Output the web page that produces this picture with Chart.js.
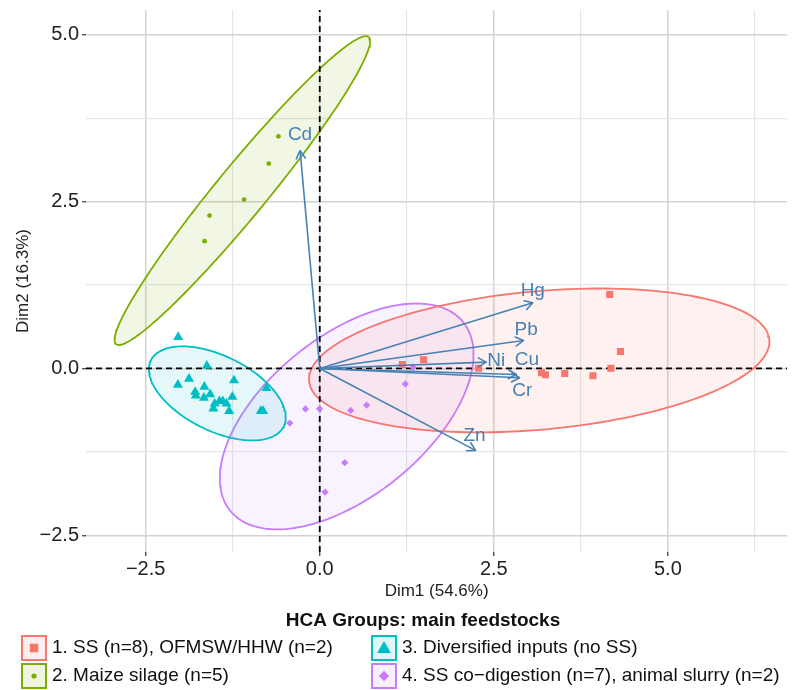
<!DOCTYPE html>
<html><head><meta charset="utf-8">
<script src="https://cdn.jsdelivr.net/npm/chart.js@4/dist/chart.umd.min.js"></script>
<style>html,body{margin:0;padding:0;background:#fff;overflow:hidden;} #wrap{width:793px;height:690px;position:relative;} canvas{display:block;}</style>
</head><body><div id="wrap"><canvas id="c" width="793" height="690"></canvas></div>
<script>
// ---------- data ----------
const groupNames = ["1. SS (n=8), OFMSW/HHW (n=2)", "2. Maize silage (n=5)", "3. Diversified inputs (no SS)", "4. SS co\u2212digestion (n=7), animal slurry (n=2)"];
const groupColors = ["#F8766D", "#7CAE00", "#00BFC4", "#C77CFF"];

const g1X = [4.165, 4.319, 4.182, 3.185, 3.242, 3.518, 3.924, 1.492, 1.187, 2.281];
const g1Y = [1.108, 0.254, 0.004, -0.064, -0.094, -0.075, -0.109, 0.130, 0.060, 0.004];
const g2X = [-0.593, -0.732, -1.086, -1.583, -1.654];
const g2Y = [3.478, 3.069, 2.530, 2.290, 1.906];
const g3X = [-2.033, -1.621, -1.877, -2.037, -1.231, -1.657, -1.789, -1.780, -1.574, -1.664, -1.440, -1.392, -1.509, -1.339, -1.255, -1.527, -1.301, -0.765, -0.846, -0.813];
const g3Y = [0.469, 0.040, -0.157, -0.244, -0.180, -0.274, -0.352, -0.407, -0.389, -0.439, -0.491, -0.491, -0.528, -0.528, -0.424, -0.603, -0.639, -0.296, -0.639, -0.639];
const g4X = [-0.205, -0.003, -0.430, 0.445, 0.674, 1.230, 0.359, 0.076, 1.339];
const g4Y = [-0.606, -0.603, -0.819, -0.629, -0.551, -0.232, -1.412, -1.852, 0.019];

// confidence ellipses per group: centre, semi-axes, rotation (degrees)
const ellCx = [3.152, -1.112, -1.471, 0.387];
const ellCy = [0.120, 2.665, -0.374, -0.719];
const ellA = [3.320, 2.930, 1.075, 2.191];
const ellB = [1.036, 0.370, 0.554, 1.176];
const ellAngle = [5.4, 51.8, -28.2, 41.15];

// variable arrows
const varNames = ["Cd", "Hg", "Pb", "Ni", "Cu", "Cr", "Zn"];
const varX = [-0.282, 3.060, 2.927, 2.391, 2.822, 2.869, 2.238];
const varY = [3.263, 0.983, 0.419, 0.095, -0.090, -0.140, -1.228];
const varLabelX = [-0.283, 3.060, 2.966, 2.535, 2.974, 2.908, 2.224];
const varLabelY = [3.498, 1.168, 0.579, 0.120, 0.130, -0.329, -1.013];

const xTicks = [-2.5, -1.25, 0, 1.25, 2.5, 3.75, 5, 6.25];
const yTicks = [-2.5, -1.25, 0, 1.25, 2.5, 3.75, 5];
const xRange = [-3.357, 6.714];
const yRange = [-2.75, 5.37];

const xTitle = "Dim1 (54.6%)";
const yTitle = "Dim2 (16.3%)";
const legendTitle = "HCA Groups: main feedstocks";

// ---------- styling ----------
const FONT = '"Liberation Sans", Arial, Helvetica, sans-serif';
const ARROW = "#4682B4";
const pointStyles = ["rect", "circle", "triangle", "rectRot"];
const pointRadii = [5, 2.4, 5.8, 3.6];
Chart.defaults.font.family = FONT;

function hexA(hex, a) {
  const n = parseInt(hex.slice(1), 16);
  return `rgba(${(n >> 16) & 255},${(n >> 8) & 255},${n & 255},${a})`;
}
function ellipsePts(i) {
  const th = ellAngle[i] * Math.PI / 180, n = 160, pts = [];
  for (let k = 0; k <= n; k++) {
    const t = 2 * Math.PI * k / n;
    const u = ellA[i] * Math.cos(t), v = ellB[i] * Math.sin(t);
    pts.push({ x: ellCx[i] + u * Math.cos(th) - v * Math.sin(th), y: ellCy[i] + u * Math.sin(th) + v * Math.cos(th) });
  }
  return pts;
}
const zip = (xs, ys) => xs.map((v, i) => ({ x: v, y: ys[i] }));
const groupsX = [g1X, g2X, g3X, g4X], groupsY = [g1Y, g2Y, g3Y, g4Y];

const datasets = [];
for (let i = 0; i < 4; i++) {
  datasets.push({ label: "ell" + i, data: ellipsePts(i), showLine: true, fill: 'shape', tension: 0,
    borderColor: groupColors[i], backgroundColor: hexA(groupColors[i], 0.1), borderWidth: 1.8,
    pointRadius: 0, order: 10 });
}
datasets.push({ label: "h0", data: [{ x: xRange[0], y: 0 }, { x: xRange[1], y: 0 }], showLine: true, borderColor: "#000",
  borderWidth: 1.8, borderDash: [6, 4], pointRadius: 0, fill: false, order: 8 });
datasets.push({ label: "v0", data: [{ x: 0, y: yRange[0] }, { x: 0, y: yRange[1] }], showLine: true, borderColor: "#000",
  borderWidth: 1.8, borderDash: [6, 4], pointRadius: 0, fill: false, order: 8 });
for (let i = 0; i < 4; i++) {
  datasets.push({ label: groupNames[i], data: zip(groupsX[i], groupsY[i]), showLine: false,
    pointStyle: pointStyles[i], pointRadius: pointRadii[i], pointBackgroundColor: groupColors[i],
    pointBorderColor: groupColors[i], pointBorderWidth: 0, order: 5 });
}
varNames.forEach((nm, i) => {
  datasets.push({ label: "var-" + nm, data: [{ x: 0, y: 0 }, { x: varX[i], y: varY[i] }], showLine: true,
    borderColor: ARROW, borderWidth: 1.6, pointRadius: 0, fill: false, order: 1 });
});

const isMajor = v => Math.abs(v / 2.5 - Math.round(v / 2.5)) < 1e-6;
const fmt = v => v.toFixed(1).replace('-', '\u2212');
const noPad = s => { s.paddingTop = 0; s.paddingBottom = 0; s.paddingLeft = 0; s.paddingRight = 0; };

const biplot = {
  id: 'biplot',
  afterDatasetsDraw(chart) {
    const { ctx, scales: { x, y } } = chart;
    ctx.save();
    const x0 = x.getPixelForValue(0), y0 = y.getPixelForValue(0);
    varNames.forEach((nm, i) => {
      const x1 = x.getPixelForValue(varX[i]), y1 = y.getPixelForValue(varY[i]);
      const ang = Math.atan2(y1 - y0, x1 - x0), L = 9, sp = Math.PI / 6;
      ctx.strokeStyle = ARROW; ctx.lineWidth = 1.6; ctx.lineCap = 'round'; ctx.lineJoin = 'round';
      ctx.beginPath();
      ctx.moveTo(x1 - L * Math.cos(ang - sp), y1 - L * Math.sin(ang - sp));
      ctx.lineTo(x1, y1);
      ctx.lineTo(x1 - L * Math.cos(ang + sp), y1 - L * Math.sin(ang + sp));
      ctx.stroke();
    });
    ctx.fillStyle = ARROW; ctx.font = `19px ${FONT}`; ctx.textAlign = 'center'; ctx.textBaseline = 'middle';
    varNames.forEach((nm, i) => {
      ctx.fillText(nm, x.getPixelForValue(varLabelX[i]), y.getPixelForValue(varLabelY[i]));
    });
    ctx.restore();
  },
  afterDraw(chart) {
    const ctx = chart.ctx;
    ctx.save();
    ctx.fillStyle = "#111"; ctx.font = `bold 19px ${FONT}`; ctx.textAlign = 'center'; ctx.textBaseline = 'middle';
    ctx.fillText(legendTitle, 423, 621);
    const colX = [22, 372], rowY = [648, 676], legR = [6, 2.6, 8, 5.2];
    for (let i = 0; i < 4; i++) {
      const cx = colX[Math.floor(i / 2)], cy = rowY[i % 2];
      ctx.fillStyle = hexA(groupColors[i], 0.12);
      ctx.fillRect(cx, cy - 12, 24, 24);
      ctx.strokeStyle = groupColors[i]; ctx.lineWidth = 2;
      ctx.strokeRect(cx, cy - 12, 24, 24);
      ctx.fillStyle = groupColors[i]; ctx.strokeStyle = groupColors[i]; ctx.lineWidth = 0.01;
      Chart.helpers.drawPoint(ctx, { pointStyle: pointStyles[i], radius: legR[i], rotation: 0, borderWidth: 0 }, cx + 12, cy + (i === 2 ? 1 : 0));
      ctx.fillStyle = "#111"; ctx.font = `19px ${FONT}`; ctx.textAlign = 'left'; ctx.textBaseline = 'middle';
      ctx.fillText(groupNames[i], cx + 30, cy);
    }
    ctx.restore();
  }
};

new Chart(document.getElementById('c'), {
  type: 'scatter',
  data: { datasets },
  options: {
    responsive: false, animation: false, events: [],
    layout: { padding: { top: 10, left: 0, right: 0, bottom: 88 } },
    plugins: { legend: { display: false }, tooltip: { enabled: false } },
    scales: {
      x: {
        type: 'linear', min: xRange[0], max: xRange[1],
        afterBuildTicks: s => { s.ticks = xTicks.map(v => ({ value: v })); },
        afterFit: s => { s.height = 50; noPad(s); },
        ticks: { autoSkip: false, maxRotation: 0, padding: 1, color: "#222", font: { size: 20 },
          callback: v => isMajor(v) ? fmt(v) : '' },
        grid: { color: c => isMajor(c.tick.value) ? '#d2d2d2' : '#e6e6e6', lineWidth: c => isMajor(c.tick.value) ? 1.5 : 1.2,
          tickLength: 4, tickColor: c => isMajor(c.tick.value) ? '#333' : 'rgba(0,0,0,0)', tickWidth: 1.2 },
        border: { display: false },
        title: { display: true, text: xTitle, color: "#222", font: { size: 17 }, padding: { top: 0, bottom: 0 } }
      },
      y: {
        type: 'linear', min: yRange[0], max: yRange[1],
        afterBuildTicks: s => { s.ticks = yTicks.map(v => ({ value: v })); },
        afterFit: s => { s.width = 86; noPad(s); },
        ticks: { autoSkip: false, padding: 3, color: "#222", font: { size: 20 },
          callback: v => isMajor(v) ? fmt(v) : '' },
        grid: { color: c => isMajor(c.tick.value) ? '#d2d2d2' : '#e6e6e6', lineWidth: c => isMajor(c.tick.value) ? 1.5 : 1.2,
          tickLength: 4, tickColor: c => isMajor(c.tick.value) ? '#333' : 'rgba(0,0,0,0)', tickWidth: 1.2 },
        border: { display: false },
        title: { display: true, text: yTitle, color: "#222", font: { size: 17 }, padding: { top: 13, bottom: 0 } }
      }
    }
  },
  plugins: [biplot]
});
</script>
</body></html>
